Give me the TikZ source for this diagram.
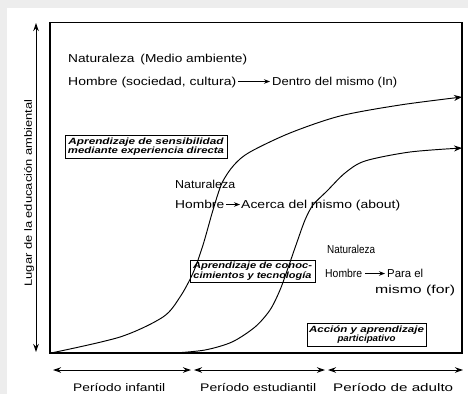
\documentclass[tikz,border=0pt]{standalone}
\usepackage{fontspec}
\usepackage{graphicx}
\setmainfont{Liberation Sans}
\usetikzlibrary{arrows.meta}
\newcommand{\wt}[2]{\resizebox{#1pt}{\height}{#2}}
\begin{document}
\begin{tikzpicture}[x=1pt,y=-1pt,
  lbl/.style={font=\fontsize{11.5}{13}\selectfont, inner sep=0pt, anchor=base west},
  per/.style={font=\fontsize{11}{13}\selectfont, inner sep=0pt, anchor=base west},
  bx/.style={draw, line width=0.9pt, font=\fontsize{9}{9.5}\selectfont\bfseries\itshape,
     align=center, inner sep=1pt},
  arr/.style={-{Stealth[length=6pt,width=4.5pt]}, line width=0.8pt},
  darr/.style={{Stealth[length=8pt,width=5.5pt]}-{Stealth[length=8pt,width=5.5pt]}, line width=1pt},
  crv/.style={line width=0.95pt},
]
\useasboundingbox (0,0) rectangle (468,394);
% scan margin
\fill[gray!14] (0,0) rectangle (468,394);
\fill[white] (7,8) rectangle (468,394);

% frame
\draw[line width=1.1pt] (50,22.5) rectangle (462,353);

% vertical axis
\coordinate (ytop) at (36,23);
\coordinate (ybot) at (36,352);
\draw[darr] (ytop) -- (ybot);
\node[font=\fontsize{10.5}{12}\selectfont, rotate=90, inner sep=0pt] (ylab) at (29,193) {\wt{187}{Lugar de la educación ambiental}};

% curves
\draw[crv, -{Stealth[length=8pt,width=6pt]}] plot[smooth, tension=0.5] coordinates {
 (51,353) (120,337) (163,317) (180,297) (193,273) (203,245) (213,210) (222,183)
 (234,165) (250,152) (290,133) (340,116) (400,105) (462,97)};
\draw[crv, -{Stealth[length=8pt,width=6pt]}] plot[smooth, tension=0.5] coordinates {
 (175,353) (205,350) (232,342) (255,327) (270,310) (280,290) (288,268) (296,245)
 (305,220) (313,205) (327,191) (345,173) (365,161) (410,152) (462,148)};

% texts top
\node[lbl] (n1) at (68,62) {\wt{179}{Naturaleza\hspace{5pt}(Medio ambiente)}};
\node[lbl] (h1) at (68,85) {\wt{168}{Hombre (sociedad, cultura)}};
\node[lbl] (d1) at (272,85) {\wt{125}{Dentro del mismo (In)}};
\draw[arr] ([xshift=2pt,yshift=3.5pt]h1.base east) -- ([xshift=-2pt,yshift=3.5pt]d1.base west);

% middle
\node[lbl] (n2) at (175,188) {\wt{60}{Naturaleza}};
\node[lbl] (h2) at (175,208) {\wt{49}{Hombre}};
\node[lbl] (a2) at (241,208) {\wt{159}{Acerca del mismo (about)}};
\draw[arr] ([xshift=1.5pt,yshift=3.5pt]h2.base east) -- ([xshift=-1pt,yshift=3.5pt]a2.base west);

% right
\node[lbl] (n3) at (327,253) {\wt{48}{Naturaleza}};
\node[lbl] (h3) at (325,277) {\wt{37}{Hombre}};
\node[lbl] (p3) at (387,277) {\wt{36}{Para el}};
\draw[arr] ([xshift=3pt,yshift=3.5pt]h3.base east) -- ([xshift=-2pt,yshift=3.5pt]p3.base west);
\node[lbl] (m3) at (375,293) {\wt{80}{mismo (for)}};

% boxes
\node[bx, minimum width=162pt, minimum height=23pt] (b1) at (146,146.5) {\wt{155}{Aprendizaje de sensibilidad}\\\wt{156}{mediante experiencia directa}};
\node[bx, minimum width=125pt, minimum height=22pt] (b2) at (252.5,271) {\wt{119}{Aprendizaje de conoc-}\\\wt{118}{cimientos y tecnología}};
\node[bx, minimum width=119pt, minimum height=23pt] (b3) at (366.5,334.5) {\wt{115}{Acción y aprendizaje}\\\wt{58}{participativo}};

% periods
\coordinate (p0) at (53,370);
\coordinate (p1) at (191,370);
\coordinate (p1b) at (194,370);
\coordinate (p2) at (325,370);
\coordinate (p2b) at (328,370);
\coordinate (p3e) at (463,370);
\draw[darr] (p0) -- (p1);
\draw[darr] (p1b) -- (p2);
\draw[darr] (p2b) -- (p3e);
\node[per] (l1) at (73,391) {\wt{92}{Período infantil}};
\node[per] (l2) at (200,391) {\wt{116}{Período estudiantil}};
\node[per] (l3) at (333,391) {\wt{120}{Período de adulto}};
\end{tikzpicture}
\end{document}
